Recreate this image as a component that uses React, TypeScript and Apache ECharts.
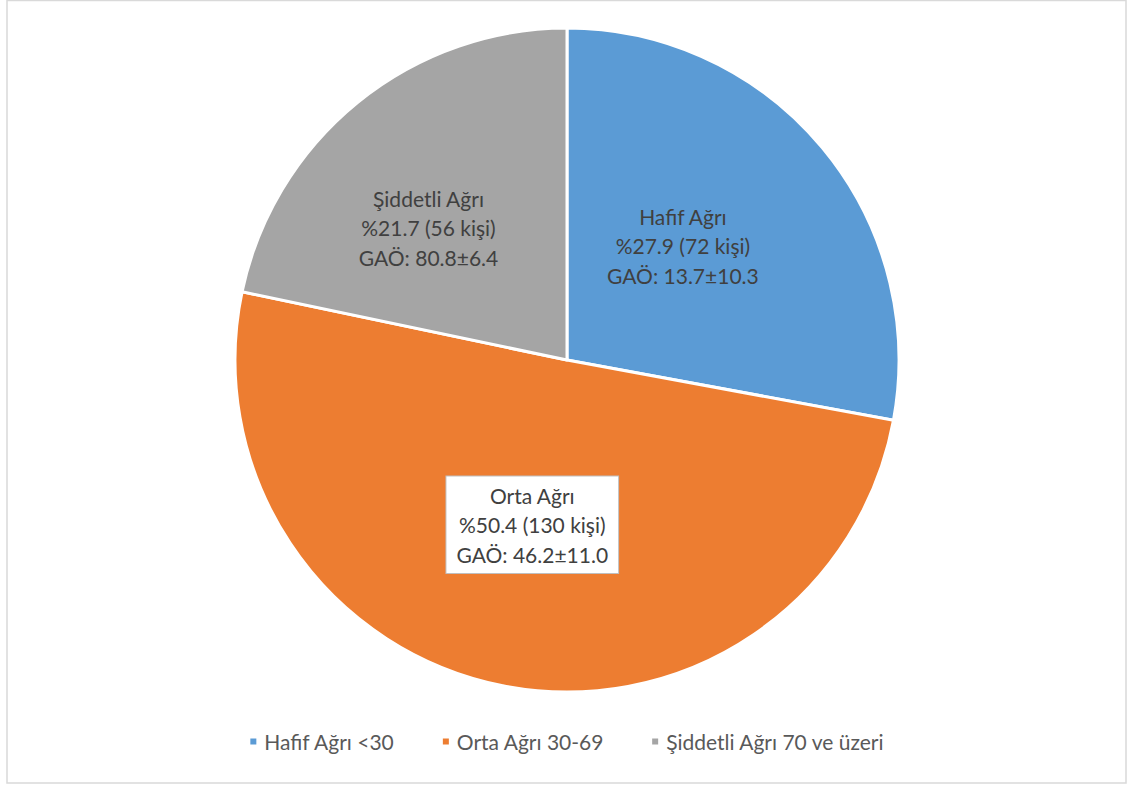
import React, { useEffect, useRef } from "react";
import * as echarts from "echarts";

const categories = ["Hafif Ağrı <30", "Orta Ağrı 30-69", "Şiddetli Ağrı 70 ve üzeri"];
const shortNames = ["Hafif Ağrı", "Orta Ağrı", "Şiddetli Ağrı"];
const counts = [72, 130, 56];
const percents = ["27.9", "50.4", "21.7"];
const gao = ["13.7±10.3", "46.2±11.0", "80.8±6.4"];
const colors = ["#5b9bd5", "#ed7d31", "#a5a5a5"];

const FONT = "Lato, 'Open Sans', sans-serif";

export default function App() {
  const ref = useRef<HTMLDivElement>(null);
  useEffect(() => {
    if (!ref.current) return;
    const chart = echarts.init(ref.current, null, { renderer: "svg" });
    const offsets = [[-14, -6], [-2, -1], [-32, -1]];
    chart.setOption({
      animation: false,
      backgroundColor: "#ffffff",
      color: colors,
      graphic: [
        {
          type: "rect",
          shape: { x: 7, y: 0.5, width: 1119, height: 782.5 },
          style: { fill: "none", stroke: "#d9d9d9", lineWidth: 1.5 },
          silent: true,
        },
      ],
      legend: {
        bottom: 30,
        left: "center",
        icon: "rect",
        itemWidth: 8,
        itemHeight: 8,
        itemGap: 46,
        textStyle: { color: "#595959", fontSize: 21, fontFamily: FONT, padding: [0, 0, 0, 2] },
        data: categories,
      },
      series: [
        {
          type: "pie",
          center: [567, 360],
          radius: [0, 332],
          startAngle: 90,
          clockwise: true,
          avoidLabelOverlap: false,
          itemStyle: { borderColor: "#ffffff", borderWidth: 3 },
          label: {
            show: true,
            position: "inside",
            color: "#404040",
            fontSize: 21,
            fontFamily: FONT,
            lineHeight: 29.5,
            align: "center",
          },
          labelLine: { show: false },
          emphasis: { disabled: true },
          data: categories.map((c, i) => ({
            name: c,
            value: counts[i],
            label: {
              formatter: `${shortNames[i]}\n%${percents[i]} (${counts[i]} kişi)\nGAÖ: ${gao[i]}`,
              offset: offsets[i],
              ...(i === 1
                ? {
                    backgroundColor: "#ffffff",
                    borderColor: "#bfbfbf",
                    borderWidth: 1,
                    padding: [4, 10, 4, 10],
                  }
                : {}),
            },
          })),
        },
      ],
    });
    return () => chart.dispose();
  }, []);
  return (
    <div
      ref={ref}
      style={{ position: "fixed", left: 0, top: 0, width: 1133, height: 787 }}
    />
  );
}
